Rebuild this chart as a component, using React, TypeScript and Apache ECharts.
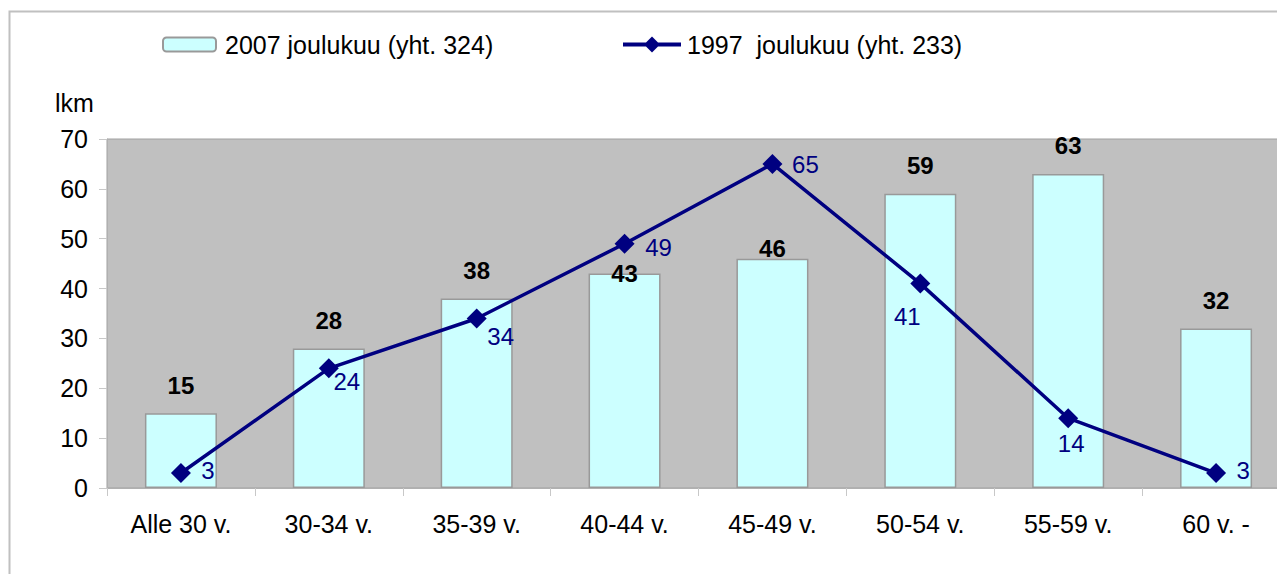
import React, { useEffect, useRef } from "react";
import * as echarts from "echarts";

const categories = ["Alle 30 v.", "30-34 v.", "35-39 v.", "40-44 v.", "45-49 v.", "50-54 v.", "55-59 v.", "60 v. -"];
const values2007 = [15, 28, 38, 43, 46, 59, 63, 32];
const values1997 = [3, 24, 34, 49, 65, 41, 14, 3];
const yTicks = { min: 0, max: 70, interval: 10 };
const name2007 = "2007 joulukuu (yht. 324)";
const name1997 = "1997  joulukuu (yht. 233)";

// manual label placement (offsets in px), as in the original
const barLabelOffsets: [number, number][] = [
  [0, 0], [0, 0], [0, 0], [0, 28], [0, 18], [0, 0], [0, 0], [0, 0],
];
const lineLabelOffsets: [number, number][] = [
  [27, -3], [18, 13], [24, 18], [34, 4], [33, 1], [-13, 33], [3, 25], [27, -3],
];

const lineLegendIcon = "path://M0,6 L58,6 L58,10 L0,10 Z M29,0 L37,8 L29,16 L21,8 Z";

export default function App() {
  const ref = useRef<HTMLDivElement>(null);
  useEffect(() => {
    if (!ref.current) return;
    const chart = echarts.init(ref.current, undefined, { renderer: "svg" });
    const font = "Liberation Sans, Arial, sans-serif";
    chart.setOption({
      animation: false,
      textStyle: { fontFamily: font },
      graphic: [
        {
          type: "rect",
          shape: { x: 9.5, y: 11.5, width: 1400, height: 700 },
          style: { fill: "none", stroke: "#c0c0c0", lineWidth: 2 },
          silent: true,
          z: -10,
        },
        {
          type: "text",
          x: 55,
          y: 103,
          style: { text: "lkm", fill: "#000", font: `25px ${font}`, textVerticalAlign: "middle" },
        },
      ],
      legend: [
        {
          data: [name2007],
          left: 162,
          top: 32,
          itemWidth: 53,
          itemHeight: 14,
          padding: 0,
          textStyle: { fontSize: 25, color: "#000", fontFamily: font, padding: [0, 0, 0, 4] },
        },
        {
          data: [{ name: name1997, icon: lineLegendIcon }],
          left: 623,
          top: 32,
          itemWidth: 58,
          itemHeight: 16,
          padding: 0,
          itemStyle: { color: "#000080", borderWidth: 0 },
          textStyle: { fontSize: 25, color: "#000", fontFamily: font, padding: [0, 0, 0, 1] },
        },
      ],
      grid: {
        left: 107,
        top: 139,
        width: 1183,
        height: 349,
        show: true,
        backgroundColor: "#c0c0c0",
        borderColor: "#a0a0a0",
        borderWidth: 1,
      },
      xAxis: {
        type: "category",
        data: categories,
        axisLine: { lineStyle: { color: "#b0b0b0", width: 1 } },
        axisTick: { show: true, length: 8, lineStyle: { color: "#c8c8c8" } },
        axisLabel: { color: "#000", fontSize: 25, margin: 23, fontFamily: font },
      },
      yAxis: {
        type: "value",
        min: yTicks.min,
        max: yTicks.max,
        interval: yTicks.interval,
        splitLine: { show: false },
        axisLine: { show: true, lineStyle: { color: "#b0b0b0" } },
        axisTick: { show: true, length: 8, lineStyle: { color: "#c8c8c8" } },
        axisLabel: { color: "#000", fontSize: 25, margin: 19, fontFamily: font },
      },
      series: [
        {
          name: name2007,
          type: "bar",
          barWidth: "48.7%",
          data: values2007.map((v, i) => ({
            value: v,
            label: { offset: barLabelOffsets[i] },
          })),
          itemStyle: { color: "#ccffff", borderColor: "#999999", borderWidth: 1.5 },
          label: {
            show: true,
            position: "top",
            distance: 28,
            verticalAlign: "middle",
            color: "#000",
            fontWeight: "bold",
            fontSize: 24,
            fontFamily: font,
          },
        },
        {
          name: name1997,
          type: "line",
          data: values1997.map((v, i) => ({
            value: v,
            label: { offset: lineLabelOffsets[i] },
          })),
          symbol: "diamond",
          symbolSize: 20,
          lineStyle: { color: "#000080", width: 3.5 },
          itemStyle: { color: "#000080" },
          label: {
            show: true,
            position: "inside",
            align: "center",
            verticalAlign: "middle",
            color: "#000080",
            fontSize: 24,
            fontFamily: font,
          },
          z: 5,
        },
      ],
    });
    return () => chart.dispose();
  }, []);
  return (
    <div style={{ position: "absolute", left: 0, top: 0, width: 1277, height: 574, overflow: "hidden", background: "#fff" }}>
      <div ref={ref} style={{ width: 1320, height: 574 }} />
    </div>
  );
}
